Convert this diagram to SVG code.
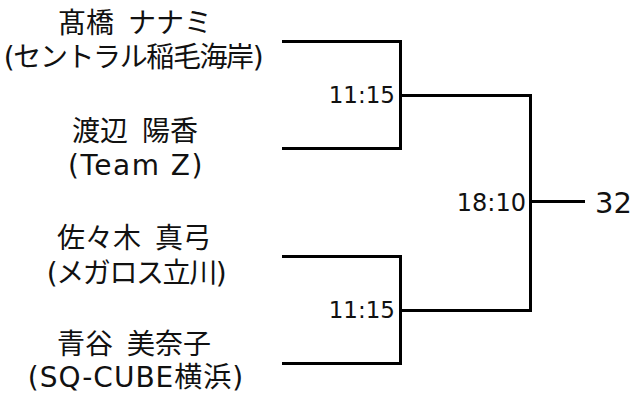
<svg xmlns="http://www.w3.org/2000/svg" width="635" height="396" viewBox="0 0 635 396">
<style>
.name{font-family:"DejaVu Sans","Noto Sans CJK JP",sans-serif;font-size:28px;fill:#111;text-anchor:middle}
.kana{letter-spacing:-1.4px}
.latin{letter-spacing:1.5px}
.mixed{letter-spacing:1px}
.score{font-family:"DejaVu Sans","Noto Sans CJK JP",sans-serif;font-size:23px;fill:#111;text-anchor:end}
.big{font-size:24px}
.result{font-family:"DejaVu Sans","Noto Sans CJK JP",sans-serif;font-size:29px;fill:#111}
.ln{fill:none;stroke:#000;stroke-width:3;stroke-linejoin:miter;stroke-linecap:butt}
</style>
<rect width="635" height="396" fill="#fff"/>
<g id="connectors">
<path class="ln" d="M282,41.5 H400.5 V148.5 H282"/>
<path class="ln" d="M282,256.5 H400.5 V363.5 H282"/>
<path class="ln" d="M400.5,95.5 H530.5 V310.5 H400.5"/>
<path class="ln" d="M530.5,201.5 H585"/>
</g>
<g id="player1"><text class="name" x="135" y="33">髙橋&#8194;ナナミ</text><text class="name kana" x="133" y="67">(セントラル稲毛海岸)</text></g>
<g id="player2"><text class="name" x="135" y="141">渡辺&#8194;陽香</text><text class="name latin" x="136" y="175">(Team Z)</text></g>
<g id="player3"><text class="name" x="134" y="248">佐々木&#8194;真弓</text><text class="name kana" x="136" y="283">(メガロス立川)</text></g>
<g id="player4"><text class="name" x="134" y="354">青谷&#8194;美奈子</text><text class="name mixed" x="136" y="387">(SQ-CUBE横浜)</text></g>
<g id="match1"><text class="score" x="395" y="103">11:15</text></g>
<g id="match2"><text class="score" x="395" y="318">11:15</text></g>
<g id="final"><text class="score big" x="526" y="211">18:10</text></g>
<g id="winner"><text class="result" x="595" y="213">32</text></g>
</svg>
